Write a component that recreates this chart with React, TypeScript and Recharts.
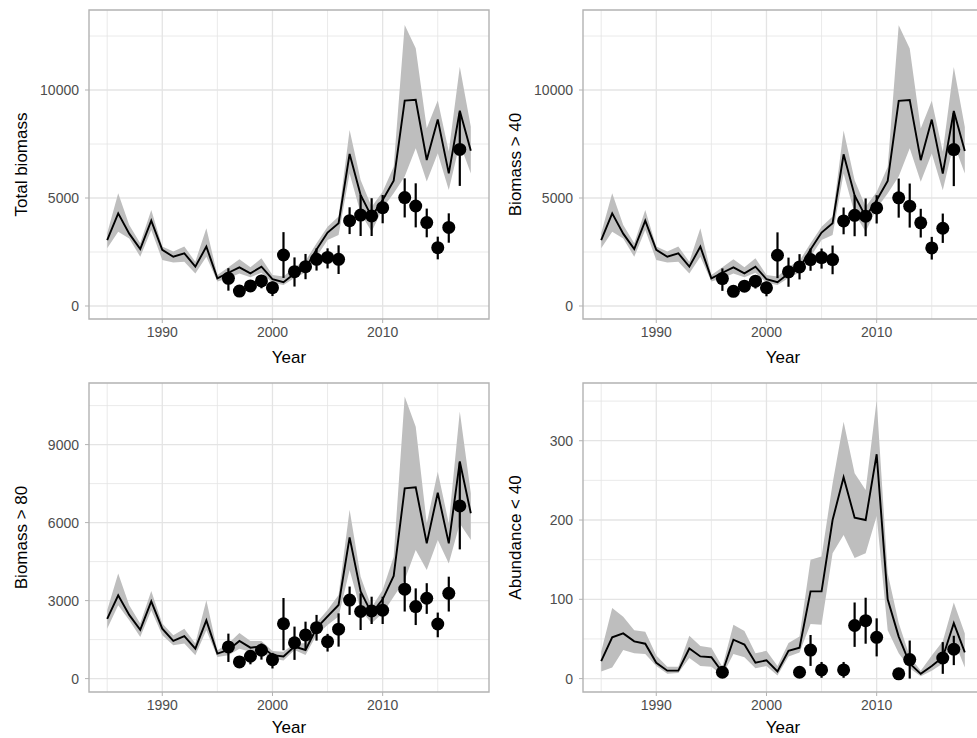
import React from "react";
import {
  ComposedChart,
  Area,
  Line,
  Scatter,
  ErrorBar,
  XAxis,
  YAxis,
  CartesianGrid,
  ReferenceArea,
} from "recharts";

// model years (line + ribbon)
const years = [
  1985, 1986, 1987, 1988, 1989, 1990, 1991, 1992, 1993, 1994, 1995, 1996, 1997, 1998, 1999, 2000, 2001,
  2002, 2003, 2004, 2005, 2006, 2007, 2008, 2009, 2010, 2011, 2012, 2013, 2014, 2015, 2016, 2017, 2018,
];

// ---- Total biomass ----
const totalEst = [
  3050, 4290, 3350, 2640, 3950, 2600, 2280, 2440, 1820, 2750, 1280, 1540, 1790, 1510, 1820, 1240, 1100,
  1500, 1750, 2620, 3400, 3830, 7040, 5140, 4140, 4910, 5800, 9510, 9550, 6760, 8640, 6140, 9040, 7190,
];
const totalHi = [
  3370, 5220, 3750, 2900, 4450, 2750, 2520, 2750, 2050, 3600, 1440, 1790, 2160, 1790, 2210, 1440, 1360,
  1800, 2100, 2900, 3670, 4140, 8150, 5830, 4600, 5290, 6450, 13010, 11930, 8230, 9510, 7150, 11080, 8300,
];
const totalLo = [
  2670, 3440, 3130, 2280, 3520, 2130, 2010, 2050, 1510, 2280, 1130, 1280, 1510, 1330, 1540, 1080, 970,
  1300, 1550, 2280, 3060, 3290, 6140, 4290, 3440, 4520, 5220, 6000, 7300, 5760, 7070, 5370, 7530, 6140,
];
const totalObsYears = [1996, 1997, 1998, 1999, 2000, 2001, 2002, 2003, 2004, 2005, 2006, 2007, 2008, 2009, 2010, 2012, 2013, 2014, 2015, 2016, 2017];
const totalObs = [1280, 690, 930, 1160, 850, 2360, 1590, 1820, 2160, 2250, 2160, 3950, 4210, 4170, 4550, 5020, 4630, 3860, 2700, 3640, 7250];
const totalObsLo = [710, 540, 660, 820, 460, 1300, 900, 1240, 1640, 1740, 1480, 3330, 3240, 3240, 3830, 4100, 3640, 3180, 2160, 2930, 5560];
const totalObsHi = [1750, 820, 1130, 1440, 1130, 3420, 2250, 2410, 2670, 2670, 2810, 4570, 5140, 4990, 5140, 5910, 5680, 4510, 3210, 4290, 8950];

// ---- Biomass > 40 ----
const b40Est = [
  3050, 4290, 3350, 2640, 3950, 2600, 2280, 2440, 1820, 2750, 1280, 1540, 1790, 1510, 1820, 1240, 1100,
  1500, 1750, 2620, 3400, 3830, 7020, 5120, 4140, 4900, 5790, 9500, 9540, 6750, 8630, 6130, 9030, 7180,
];
const b40Hi = [
  3370, 5220, 3750, 2900, 4450, 2750, 2520, 2750, 2050, 3600, 1440, 1790, 2160, 1790, 2210, 1440, 1360,
  1800, 2100, 2900, 3670, 4140, 8130, 5820, 4600, 5280, 6440, 13000, 11920, 8220, 9500, 7140, 11070, 8290,
];
const b40Lo = [
  2670, 3440, 3130, 2280, 3520, 2130, 2010, 2050, 1510, 2280, 1130, 1280, 1510, 1330, 1540, 1080, 970,
  1300, 1550, 2280, 3060, 3290, 6130, 4280, 3440, 4510, 5210, 6000, 7300, 5750, 7060, 5360, 7520, 6130,
];
const b40ObsYears = [1996, 1997, 1998, 1999, 2000, 2001, 2002, 2003, 2004, 2005, 2006, 2007, 2008, 2009, 2010, 2012, 2013, 2014, 2015, 2016, 2017];
const b40Obs = [1270, 680, 920, 1150, 840, 2350, 1580, 1810, 2150, 2240, 2150, 3940, 4200, 4160, 4540, 5010, 4620, 3850, 2690, 3600, 7240];
const b40ObsLo = [700, 540, 650, 810, 450, 1290, 890, 1230, 1630, 1730, 1470, 3320, 3230, 3230, 3820, 4090, 3630, 3170, 2150, 2920, 5550];
const b40ObsHi = [1740, 810, 1120, 1430, 1120, 3410, 2240, 2400, 2660, 2660, 2800, 4560, 5130, 4980, 5130, 5900, 5670, 4500, 3200, 4280, 8940];

// ---- Biomass > 80 ----
const b80Est = [
  2300, 3200, 2450, 1880, 2970, 1920, 1450, 1630, 1150, 2240, 960, 1100, 1450, 1190, 1240, 900, 850,
  1230, 1100, 1940, 2390, 2830, 5430, 3350, 2510, 3050, 3950, 7320, 7360, 5200, 7150, 5200, 8350, 6360,
];
const b80Hi = [
  2630, 4040, 2820, 2120, 3370, 2120, 1670, 1920, 1350, 3010, 1090, 1350, 1750, 1450, 1450, 1060, 1030,
  1360, 1360, 2150, 2640, 3220, 6490, 3920, 2740, 3410, 4690, 10850, 9690, 5970, 7960, 5970, 10270, 7130,
];
const b80Lo = [
  1920, 2820, 2240, 1600, 2630, 1670, 1280, 1350, 900, 1860, 830, 900, 1150, 1030, 990, 770, 700,
  1100, 910, 1680, 2060, 2390, 4180, 2640, 2130, 2510, 3150, 3790, 4950, 4180, 5330, 4430, 5970, 5330,
];
const b80ObsYears = [1996, 1997, 1998, 1999, 2000, 2001, 2002, 2003, 2004, 2005, 2006, 2007, 2008, 2009, 2010, 2012, 2013, 2014, 2015, 2016, 2017];
const b80Obs = [1220, 640, 860, 1090, 730, 2110, 1380, 1680, 1960, 1420, 1900, 3020, 2580, 2600, 2630, 3440, 2770, 3090, 2100, 3280, 6640];
const b80ObsLo = [640, 500, 550, 730, 390, 1090, 720, 1130, 1460, 1040, 1230, 2450, 1870, 2100, 2100, 2580, 2060, 2490, 1590, 2580, 4970];
const b80ObsHi = [1730, 780, 1030, 1350, 990, 3100, 2000, 2190, 2450, 1720, 2510, 3540, 3280, 3150, 3150, 4310, 3470, 3670, 2540, 3920, 8310];

// ---- Abundance < 40 ----
const a40Est = [
  22, 52, 57, 47, 44, 20, 10, 10, 38, 28, 27, 8, 49, 43, 20, 23, 9,
  35, 39, 110, 110, 200, 254, 203, 200, 283, 100, 53, 19, 6, 16, 27, 70, 33,
];
const a40Hi = [
  34, 89, 78, 61, 59, 29, 15, 15, 54, 41, 39, 15, 68, 60, 32, 35, 16,
  45, 53, 150, 154, 246, 324, 259, 238, 351, 133, 70, 28, 10, 29, 47, 96, 57,
];
const a40Lo = [
  9, 14, 36, 32, 31, 16, 6, 7, 26, 16, 15, 4, 31, 27, 13, 16, 4,
  28, 33, 69, 68, 158, 181, 152, 158, 205, 61, 32, 13, 3, 10, 19, 49, 14,
];
const a40ObsYears = [1996, 2003, 2004, 2005, 2007, 2008, 2009, 2010, 2012, 2013, 2016, 2017];
const a40Obs = [8, 8, 36, 11, 11, 67, 73, 52, 6, 24, 26, 37];
const a40ObsLo = [5, 5, 16, 1, 1, 40, 44, 28, 4, 0, 6, 17];
const a40ObsHi = [11, 11, 55, 21, 21, 96, 102, 76, 8, 48, 46, 54];

const X_DOMAIN: [number, number] = [1983.35, 2019.65];
const X_MAJOR = [1990, 2000, 2010];
const X_MINOR = [1985, 1995, 2005, 2015];

const TICK_GREY = "#4D4D4D";
const GRID = "#E4E4E4";
const BORDER = "#B3B3B3";

function Dot(props: any) {
  if (props.cx == null || props.cy == null) return null;
  return <circle cx={props.cx} cy={props.cy} r={6.5} fill="#000" />;
}

function Panel({
  left,
  top,
  title,
  est,
  lo,
  hi,
  obsYears,
  obs,
  obsLo,
  obsHi,
  yDomain,
  yTicks,
  yMinor,
  yearOffset = 7,
}: {
  left: number;
  top: number;
  title: string;
  est: number[];
  lo: number[];
  hi: number[];
  obsYears: number[];
  obs: number[];
  obsLo: number[];
  obsHi: number[];
  yDomain: [number, number];
  yTicks: number[];
  yMinor: number[];
  yearOffset?: number;
}) {
  const model = years.map((year, i) => ({ year, est: est[i], band: [lo[i], hi[i]] }));
  const points = obsYears.map((year, i) => ({
    year,
    obs: obs[i],
    err: [obs[i] - obsLo[i], obsHi[i] - obs[i]],
  }));
  return (
    <div style={{ position: "absolute", left, top }}>
      <ComposedChart width={491} height={370} data={model} margin={{ top: 10, right: 2, bottom: 0, left: 0 }}>
        <CartesianGrid
          horizontalValues={yMinor}
          verticalValues={X_MINOR}
          stroke={GRID}
          strokeWidth={0.8}
        />
        <CartesianGrid
          horizontalValues={yTicks}
          verticalValues={X_MAJOR}
          stroke={GRID}
          strokeWidth={1.3}
        />
        <XAxis
          type="number"
          dataKey="year"
          domain={X_DOMAIN}
          ticks={X_MAJOR}
          interval={0}
          allowDataOverflow
          axisLine={false}
          tickLine={{ stroke: BORDER }}
          tickSize={4}
          tickMargin={4}
          height={51}
          tick={{ fill: TICK_GREY, fontSize: 14 }}
          label={{ value: "Year", position: "insideBottom", offset: yearOffset, fill: "#000", fontSize: 17 }}
        />
        <YAxis
          type="number"
          domain={yDomain}
          ticks={yTicks}
          interval={0}
          allowDataOverflow
          axisLine={false}
          tickLine={{ stroke: BORDER }}
          tickSize={4}
          tickMargin={6}
          width={89}
          tick={{ fill: TICK_GREY, fontSize: 14 }}
          label={{
            value: title,
            angle: -90,
            position: "insideLeft",
            offset: 21,
            textAnchor: "middle",
            fill: "#000",
            fontSize: 17,
          }}
        />
        <Area
          dataKey="band"
          type="linear"
          stroke="none"
          fill="#BEBEBE"
          fillOpacity={1}
          isAnimationActive={false}
          dot={false}
          activeDot={false}
        />
        <Line
          dataKey="est"
          type="linear"
          stroke="#000"
          strokeWidth={1.9}
          dot={false}
          activeDot={false}
          isAnimationActive={false}
        />
        <Scatter data={points} dataKey="obs" shape={Dot} isAnimationActive={false}>
          <ErrorBar dataKey="err" direction="y" width={0} stroke="#000" strokeWidth={2.2} isAnimationActive={false} />
        </Scatter>
        <ReferenceArea
          x1={X_DOMAIN[0]}
          x2={X_DOMAIN[1]}
          y1={yDomain[0]}
          y2={yDomain[1]}
          fill="none"
          stroke={BORDER}
          strokeWidth={1.4}
          ifOverflow="visible"
        />
      </ComposedChart>
    </div>
  );
}

export default function App() {
  return (
    <div
      style={{
        position: "fixed",
        left: 0,
        top: 0,
        width: 977,
        height: 738,
        overflow: "hidden",
        background: "#fff",
        fontFamily: "'Liberation Sans', Arial, sans-serif",
      }}
    >
      <Panel
        left={0}
        top={0}
        title="Total biomass"
        est={totalEst}
        lo={totalLo}
        hi={totalHi}
        obsYears={totalObsYears}
        obs={totalObs}
        obsLo={totalObsLo}
        obsHi={totalObsHi}
        yDomain={[-602, 13704]}
        yTicks={[0, 5000, 10000]}
        yMinor={[2500, 7500, 12500]}
      />
      <Panel
        left={494}
        top={0}
        title="Biomass > 40"
        est={b40Est}
        lo={b40Lo}
        hi={b40Hi}
        obsYears={b40ObsYears}
        obs={b40Obs}
        obsLo={b40ObsLo}
        obsHi={b40ObsHi}
        yDomain={[-602, 13704]}
        yTicks={[0, 5000, 10000]}
        yMinor={[2500, 7500, 12500]}
      />
      <Panel
        left={0}
        top={373}
        title="Biomass > 80"
        est={b80Est}
        lo={b80Lo}
        hi={b80Hi}
        obsYears={b80ObsYears}
        obs={b80Obs}
        obsLo={b80ObsLo}
        obsHi={b80ObsHi}
        yDomain={[-515, 11369]}
        yTicks={[0, 3000, 6000, 9000]}
        yMinor={[1500, 4500, 7500, 10500]}
        yearOffset={10}
      />
      <Panel
        left={494}
        top={373}
        title="Abundance < 40"
        est={a40Est}
        lo={a40Lo}
        hi={a40Hi}
        obsYears={a40ObsYears}
        obs={a40Obs}
        obsLo={a40ObsLo}
        obsHi={a40ObsHi}
        yDomain={[-16.9, 372.8]}
        yTicks={[0, 100, 200, 300]}
        yMinor={[50, 150, 250, 350]}
        yearOffset={10}
      />
    </div>
  );
}
